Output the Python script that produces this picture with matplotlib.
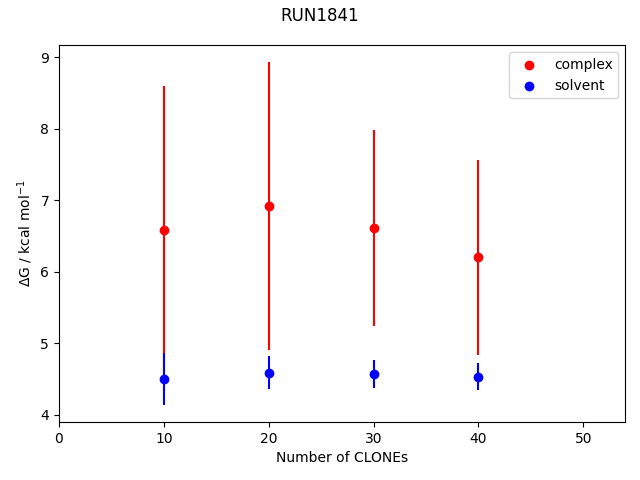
import numpy as np
from matplotlib import pyplot as plt

# Free energy estimates per number of clones
clones = [10, 20, 30, 40]
complex_dg = [6.58, 6.92, 6.61, 6.20]
complex_err = [2.02, 2.01, 1.37, 1.36]
solvent_dg = [4.50, 4.59, 4.57, 4.53]
solvent_err = [0.36, 0.23, 0.20, 0.19]

fig, ax = plt.subplots(figsize=(6.4, 4.8), dpi=100)

ax.scatter(clones, complex_dg, color="red", label="complex")
ax.errorbar(clones, complex_dg, yerr=complex_err, color="red", fmt="none")
ax.scatter(clones, solvent_dg, color="blue", label="solvent")
ax.errorbar(clones, solvent_dg, yerr=solvent_err, color="blue", fmt="none")

ax.set_xlim(0, 54)
ax.set_xlabel("Number of CLONEs")
ax.set_ylabel(r"$\Delta$G / kcal mol$^{-1}$")
ax.legend()
fig.suptitle("RUN1841", y=0.985)
fig.subplots_adjust(left=0.092, right=0.977, top=0.906, bottom=0.121)
fig.savefig("out.png")
